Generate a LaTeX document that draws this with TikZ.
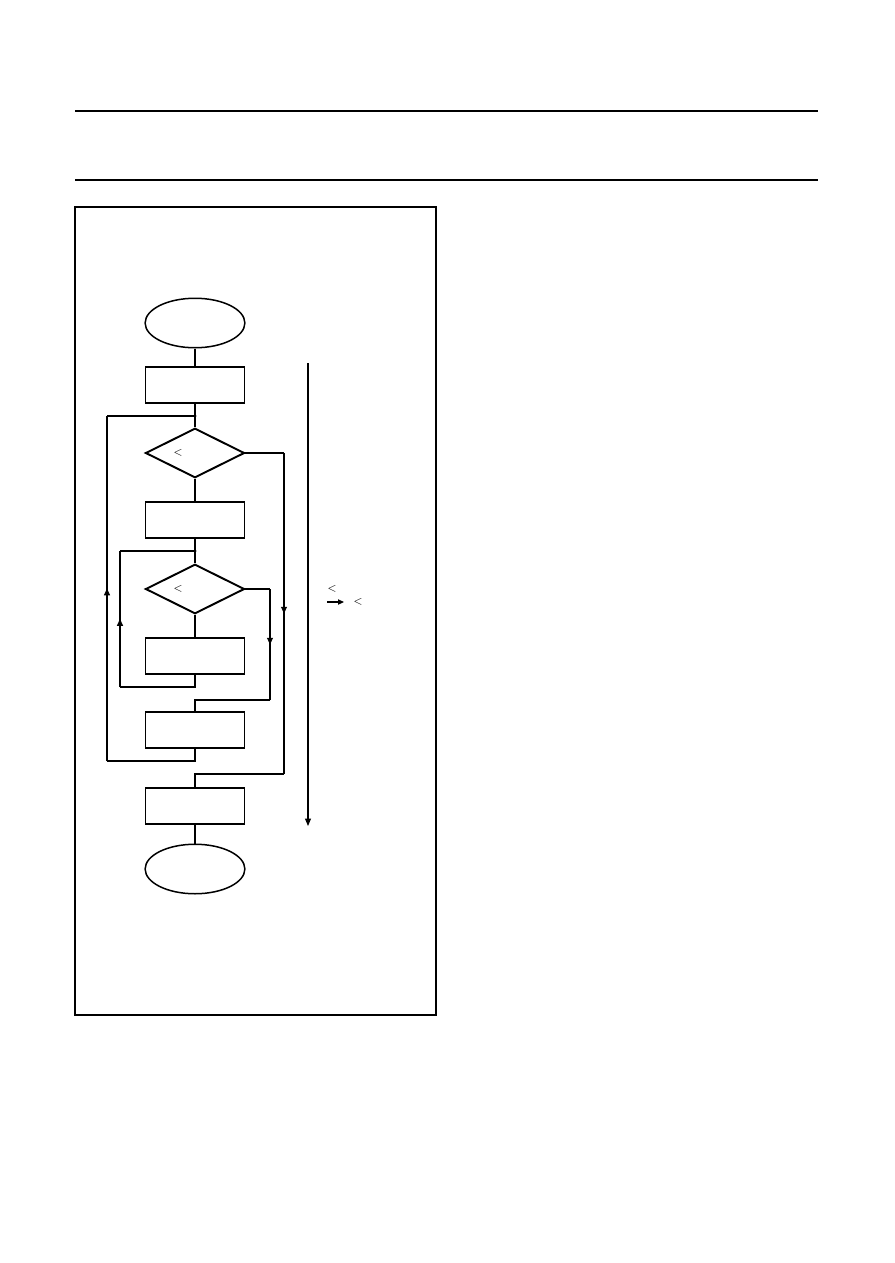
\documentclass[tikz,border=0pt]{standalone}
\usetikzlibrary{shapes.geometric,arrows.meta,decorations.markings}
\tikzset{
	box/.style={draw, line width=1.3pt, minimum width=66pt, minimum height=24.5pt, inner sep=0pt},
	oval/.style={draw, ellipse, line width=1pt, minimum width=66.5pt, minimum height=33pt, inner sep=0pt},
	test/.style={draw, diamond, line width=1.3pt, aspect=2, minimum width=66pt, minimum height=33pt, inner sep=0pt},
	wire/.style={line width=0.7pt},
	midarrow/.style={wire, decoration={markings, mark=at position 0.5 with {\arrow{Triangle[length=4.5pt,width=4pt]}}}, postaction={decorate}},
	lt/.style={font=\scriptsize, inner sep=0pt}
}
\begin{document}
\begin{tikzpicture}[x=0.6667pt, y=-0.6667pt]
	\useasboundingbox (0,0) rectangle (894,1263);
	% page rules and frame
	\draw[line width=1pt] (75,111) -- (818,111);
	\draw[line width=1pt] (75,180) -- (818,180);
	\draw[line width=0.7pt] (75,207) rectangle (436,1015);

	% flow chart
	\node[oval] (start) at (195,323) {};
	\node[box] (b1) at (195,385) {};
	\coordinate (j1) at (195,416);
	\node[test] (d1) at (195,453) {};
	\node[lt] (lt1) at (178,453) {<};
	\node[box] (b2) at (195,520) {};
	\coordinate (j2) at (195,551);
	\node[test] (d2) at (195,589) {};
	\node[lt] (lt2) at (178,589) {<};
	\node[box] (b3) at (195,656) {};
	\node[box] (b4) at (195,730) {};
	\node[box] (b5) at (195,806) {};
	\node[oval] (stop) at (195,869) {};

	\coordinate (c1) at (195,687);
	\coordinate (c2) at (120,687);
	\coordinate (c3) at (120,551);
	\coordinate (c4) at (270,589);
	\coordinate (c5) at (270,700);
	\coordinate (c6) at (195,700);
	\coordinate (c7) at (195,761);
	\coordinate (c8) at (107,761);
	\coordinate (c9) at (107,416);
	\coordinate (c10) at (284,453);
	\coordinate (c11) at (284,774);
	\coordinate (c12) at (195,774);

	\draw[wire] (start) -- (b1);
	\draw[wire] (b1) -- (j1) -- (d1);
	\draw[wire] (d1) -- (b2);
	\draw[wire] (b2) -- (j2) -- (d2);
	\draw[wire] (d2) -- (b3);
	\draw[wire] (b3) -- (c1) -- (c2);
	\draw[midarrow] (c2) -- (c3);
	\draw[wire] (c3) -- (j2);
	\draw[wire] (d2.east) -- (c4);
	\draw[midarrow] (c4) -- (c5);
	\draw[wire] (c5) -- (c6) -- (b4);
	\draw[wire] (b4) -- (c7) -- (c8);
	\draw[midarrow] (c8) -- (c9);
	\draw[wire] (c9) -- (j1);
	\draw[wire] (d1.east) -- (c10);
	\draw[midarrow] (c10) -- (c11);
	\draw[wire] (c11) -- (c12) -- (b5);
	\draw[wire] (b5) -- (stop);
	\fill (j1) circle (1.6);
	\fill (j2) circle (1.6);

	% side arrow and notes
	\coordinate (s1) at (308,363);
	\coordinate (s2) at (308,826);
	\draw[wire, -{Triangle[length=5pt,width=4pt]}] (s1) -- (s2);
	\node[lt] (lt3) at (332,589) {<};
	\coordinate (a1) at (327,602);
	\coordinate (a2) at (344,602);
	\draw[wire, -{Triangle[length=4pt,width=3.5pt]}] (a1) -- (a2);
	\node[lt] (lt4) at (358,602) {<};
\end{tikzpicture}
\end{document}
